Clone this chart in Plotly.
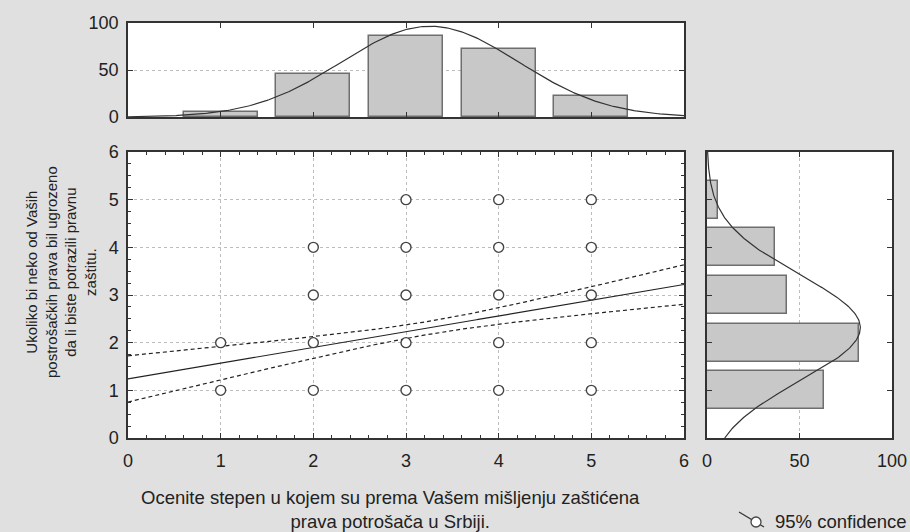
import numpy as np
import plotly.graph_objects as go

# ---------------- data ----------------
x_cats = [1, 2, 3, 4, 5]
x_counts = [5, 46, 86, 72, 22]          # top histogram (X variable)
y_cats = [1, 2, 3, 4, 5]
y_counts = [63, 82, 43, 37, 6]          # right histogram (Y variable)

# observed (x, y) combinations in the scatter
pts_x = [1, 1, 2, 2, 2, 2, 3, 3, 3, 3, 3, 4, 4, 4, 4, 4, 5, 5, 5, 5, 5]
pts_y = [1, 2, 1, 2, 3, 4, 1, 2, 3, 4, 5, 1, 2, 3, 4, 5, 1, 2, 3, 4, 5]

reg_intercept = 1.24
reg_slope = 0.33
t_times_s = 2.07                         # t(0.975) * residual SD

x_tick_labels = ["0", "1", "2", "3", "4", "5", "6"]
y_tick_labels = ["0", "1", "2", "3", "4", "5", "6"]

# ---------------- derived fits ----------------
def normal_fit(cats, counts):
    c = np.array(cats, float); n = np.array(counts, float)
    N = n.sum(); m = (c * n).sum() / N
    sd = np.sqrt((n * (c - m) ** 2).sum() / N)
    return N, m, sd

Nx, mx, sx = normal_fit(x_cats, x_counts)
Ny, my, sy = normal_fit(y_cats, y_counts)
grid = np.linspace(0, 6, 301)
curve_x = Nx / (sx * np.sqrt(2 * np.pi)) * np.exp(-0.5 * ((grid - mx) / sx) ** 2)
curve_y = Ny / (sy * np.sqrt(2 * np.pi)) * np.exp(-0.5 * ((grid - my) / sy) ** 2)

Sxx = Nx * sx ** 2
fit = reg_intercept + reg_slope * grid
hw = t_times_s * np.sqrt(1 / Nx + (grid - mx) ** 2 / Sxx)

# ---------------- style ----------------
BG = "#e0e0e0"
FRAME = "#333333"
GRID = "#bcbcbc"
BAR = "#c8c8c8"
BAR_LINE = "#6e6e6e"
CURVE = "#333333"
FONT = "Liberation Sans"
TXT = "#222222"

fig = go.Figure()

# regression line and confidence band
fig.add_trace(go.Scatter(x=grid, y=fit, mode="lines",
                         line=dict(color="#222222", width=1.2),
                         xaxis="x", yaxis="y", showlegend=False))
fig.add_trace(go.Scatter(x=grid, y=fit + hw, mode="lines",
                         line=dict(color="#222222", width=1.2, dash="4px,3px"),
                         xaxis="x", yaxis="y", showlegend=False))
fig.add_trace(go.Scatter(x=grid, y=fit - hw, mode="lines",
                         line=dict(color="#222222", width=1.2, dash="4px,3px"),
                         xaxis="x", yaxis="y", showlegend=False))
# scatter points
fig.add_trace(go.Scatter(x=pts_x, y=pts_y, mode="markers",
                         marker=dict(symbol="circle", size=10, color="white",
                                     line=dict(color="#444444", width=1.4)),
                         xaxis="x", yaxis="y", showlegend=False))

# top histogram
fig.add_trace(go.Bar(x=x_cats, y=x_counts, width=0.8,
                     marker=dict(color=BAR, line=dict(color=BAR_LINE, width=1.5)),
                     xaxis="x2", yaxis="y2", showlegend=False))
fig.add_trace(go.Scatter(x=grid, y=curve_x, mode="lines",
                         line=dict(color=CURVE, width=1.2),
                         xaxis="x2", yaxis="y2", showlegend=False))

# right histogram
fig.add_trace(go.Bar(y=y_cats, x=y_counts, width=0.8, orientation="h",
                     marker=dict(color=BAR, line=dict(color=BAR_LINE, width=1.5)),
                     xaxis="x3", yaxis="y3", showlegend=False))
fig.add_trace(go.Scatter(x=curve_y, y=grid, mode="lines",
                         line=dict(color=CURVE, width=1.2),
                         xaxis="x3", yaxis="y3", showlegend=False))

W, H = 910, 532
def px_x(a, b): return [a / W, b / W]
def px_y(top, bottom): return [(H - bottom) / H, (H - top) / H]

common = dict(showline=True, linecolor=FRAME, linewidth=1.5, mirror="ticks",
              ticks="inside", tickcolor=FRAME, ticklen=5, tickwidth=1.2,
              zeroline=False, gridcolor=GRID, griddash="dot", gridwidth=1,
              automargin=False,
              tickfont=dict(family=FONT, size=18, color=TXT))

fig.update_layout(
    width=W, height=H, paper_bgcolor=BG, plot_bgcolor="white",
    margin=dict(l=0, r=0, t=0, b=0, pad=0, autoexpand=False), bargap=0,
    xaxis=dict(domain=px_x(128, 684), range=[0, 6], anchor="y",
               tickvals=list(range(7)), ticktext=x_tick_labels, showgrid=True,
               ticklabelstandoff=6,
               minor=dict(dtick=0.2, ticks="inside", ticklen=3, tickcolor=FRAME, showgrid=False),
               **common),
    yaxis=dict(domain=px_y(152, 438), range=[0, 6], anchor="x",
               tickvals=list(range(7)), ticktext=y_tick_labels, showgrid=True,
               ticklabelstandoff=4,
               minor=dict(dtick=0.25, ticks="inside", ticklen=3, tickcolor=FRAME, showgrid=False),
               **common),
    xaxis2=dict(domain=px_x(128, 684), range=[0, 6], anchor="y2",
                tickvals=[1, 2, 3, 4, 5], showticklabels=False, showgrid=False, **common),
    yaxis2=dict(domain=px_y(23, 117), range=[0, 100], anchor="x2",
                tickvals=[0, 50, 100], showgrid=True, ticklabelstandoff=4, **common),
    xaxis3=dict(domain=px_x(707, 892), range=[0, 100], anchor="y3",
                tickvals=[0, 50, 100], showgrid=True, ticklabelstandoff=6, **common),
    yaxis3=dict(domain=px_y(152, 438), range=[0, 6], anchor="x3",
                tickvals=[1, 2, 3, 4, 5], showticklabels=False, showgrid=False, **common),
)

fig.add_annotation(text="Ocenite stepen u kojem su prema Vašem mišljenju zaštićena<br>prava potrošača u Srbiji.",
                   xref="paper", yref="paper", x=390 / W, y=(H - 509) / H,
                   xanchor="center", yanchor="middle", showarrow=False,
                   font=dict(family=FONT, size=18.5, color=TXT))
fig.add_annotation(text="Ukoliko bi neko od Vaših<br>postrošačkih prava bil ugrozeno<br>da li biste potrazili pravnu<br>zaštitu.",
                   xref="paper", yref="paper", x=61 / W, y=(H - 272) / H,
                   xanchor="center", yanchor="middle", showarrow=False, textangle=-90,
                   font=dict(family=FONT, size=15, color=TXT))

# legend fragment (bottom right)
fig.add_shape(type="line", xref="paper", yref="paper",
              x0=739 / W, y0=(H - 512) / H, x1=764 / W, y1=(H - 527) / H,
              line=dict(color="#333333", width=1.2))
fig.add_shape(type="circle", xref="paper", yref="paper",
              x0=751 / W, y0=(H - 527) / H, x1=761 / W, y1=(H - 517) / H,
              line=dict(color="#444444", width=1.3), fillcolor="white")
fig.add_annotation(text="95% confidence", xref="paper", yref="paper",
                   x=773 / W, y=(H - 521) / H, xanchor="left", yanchor="middle",
                   showarrow=False, font=dict(family=FONT, size=18.5, color=TXT))

fig.write_html("out.html", config={"displayModeBar": False},
               post_script="document.body.style.margin='0';document.body.style.overflow='hidden';")
